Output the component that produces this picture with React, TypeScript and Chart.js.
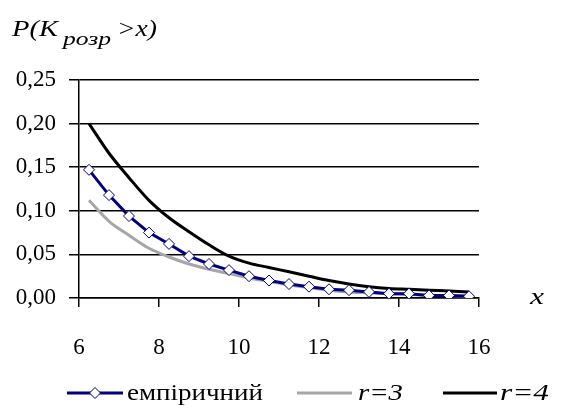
import React, { useEffect, useRef } from "react";
import { Chart, registerables } from "chart.js";

Chart.register(...registerables);

const X_VALUES = [6.25, 6.75, 7.25, 7.75, 8.25, 8.75, 9.25, 9.75, 10.25, 10.75, 11.25, 11.75, 12.25, 12.75, 13.25, 13.75, 14.25, 14.75, 15.25, 15.75];
const EMPIRICAL = [0.147, 0.118, 0.094, 0.075, 0.062, 0.048, 0.039, 0.032, 0.025, 0.020, 0.016, 0.013, 0.010, 0.009, 0.007, 0.005, 0.005, 0.003, 0.003, 0.002];
const R3 = [0.112, 0.088, 0.072, 0.057, 0.047, 0.039, 0.033, 0.028, 0.023, 0.019, 0.015, 0.012, 0.009, 0.007, 0.006, 0.005, 0.004, 0.003, 0.003, 0.002];
const R4 = [0.200, 0.166, 0.138, 0.112, 0.092, 0.076, 0.061, 0.048, 0.040, 0.035, 0.030, 0.025, 0.020, 0.016, 0.013, 0.011, 0.010, 0.009, 0.008, 0.007];

const SERIES_LABELS = ["емпіричний", "r=3", "r=4"];
const Y_TITLE_MAIN = "P(K";
const Y_TITLE_SUB = "розр";
const Y_TITLE_END = ">x)";
const X_TITLE = "x";

const FONT = '"Liberation Serif", "Times New Roman", serif';
const NAVY = "#000080";
const GRAY = "#a6a6a6";

const toPoints = (ys: number[]) => X_VALUES.map((x, i) => ({ x, y: ys[i] }));

// draw text stretched horizontally so that it spans [x0, x1]
function fitText(ctx: CanvasRenderingContext2D, text: string, x0: number, x1: number, y: number) {
  const w = ctx.measureText(text).width;
  const sx = (x1 - x0) / w;
  ctx.save();
  ctx.translate(x0, y);
  ctx.scale(sx, 1);
  ctx.fillText(text, 0, 0);
  ctx.restore();
}

const textPlugin = {
  id: "texts",
  afterDraw(chart: any) {
    const ctx = chart.ctx as CanvasRenderingContext2D;
    ctx.save();
    ctx.fillStyle = "#000";
    ctx.textAlign = "left";
    ctx.textBaseline = "alphabetic";
    // Y title
    ctx.font = `italic 24px ${FONT}`;
    fitText(ctx, Y_TITLE_MAIN, 12, 58, 36);
    ctx.font = `italic 18px ${FONT}`;
    fitText(ctx, Y_TITLE_SUB, 63, 111, 45);
    ctx.font = `italic 24px ${FONT}`;
    fitText(ctx, Y_TITLE_END, 117, 157, 36);
    // X title
    ctx.font = `italic 24px ${FONT}`;
    fitText(ctx, X_TITLE, 530, 544, 304);

    // legend
    const ly = 393;
    const items = [
      { x0: 67, x1: 123, t0: 127, t1: 263, color: NAVY, italic: false, marker: true, label: SERIES_LABELS[0] },
      { x0: 297, x1: 352, t0: 358, t1: 403, color: GRAY, italic: true, marker: false, label: SERIES_LABELS[1] },
      { x0: 443, x1: 497, t0: 500, t1: 549, color: "#000", italic: true, marker: false, label: SERIES_LABELS[2] },
    ];
    items.forEach((it) => {
      ctx.strokeStyle = it.color;
      ctx.lineWidth = 3;
      ctx.beginPath();
      ctx.moveTo(it.x0, ly);
      ctx.lineTo(it.x1, ly);
      ctx.stroke();
      if (it.marker) {
        const cx = (it.x0 + it.x1) / 2;
        ctx.fillStyle = "#fff";
        ctx.strokeStyle = NAVY;
        ctx.lineWidth = 1;
        ctx.beginPath();
        ctx.moveTo(cx, ly - 5.5);
        ctx.lineTo(cx + 5.5, ly);
        ctx.lineTo(cx, ly + 5.5);
        ctx.lineTo(cx - 5.5, ly);
        ctx.closePath();
        ctx.fill();
        ctx.stroke();
      }
      ctx.fillStyle = "#000";
      ctx.font = `${it.italic ? "italic " : ""}24px ${FONT}`;
      fitText(ctx, it.label, it.t0, it.t1, ly + 7);
    });
    ctx.restore();
  },
};

export default function App() {
  const ref = useRef<HTMLCanvasElement | null>(null);
  useEffect(() => {
    document.body.style.margin = "0";
    const canvas = ref.current;
    if (!canvas) return;
    const chart = new Chart(canvas, {
      type: "line",
      data: {
        datasets: [
          {
            label: SERIES_LABELS[0],
            data: toPoints(EMPIRICAL),
            borderColor: NAVY,
            borderWidth: 3,
            pointStyle: "rectRot",
            pointRadius: 5.5,
            pointBackgroundColor: "#fff",
            pointBorderColor: NAVY,
            pointBorderWidth: 1,
            tension: 0,
            order: 0,
          },
          {
            label: SERIES_LABELS[1],
            data: toPoints(R3),
            borderColor: GRAY,
            borderWidth: 3,
            pointRadius: 0,
            cubicInterpolationMode: "monotone",
            order: 2,
          },
          {
            label: SERIES_LABELS[2],
            data: toPoints(R4),
            borderColor: "#000",
            borderWidth: 3,
            pointRadius: 0,
            cubicInterpolationMode: "monotone",
            order: 1,
          },
        ],
      },
      options: {
        responsive: false,
        animation: false,
        layout: { padding: { top: 80, right: 85, left: 0, bottom: 0 } },
        plugins: { legend: { display: false }, tooltip: { enabled: false }, title: { display: false } },
        scales: {
          x: {
            type: "linear",
            min: 6,
            max: 16,
            afterFit: (s: any) => {
              s.height = 119;
            },
            ticks: {
              stepSize: 2,
              color: "#000",
              padding: 27,
              maxRotation: 0,
              font: { family: FONT, size: 23 },
            },
            grid: { drawOnChartArea: false, drawTicks: true, tickLength: 9, color: "#000", lineWidth: 1.5 },
            border: { display: true, color: "#000", width: 1.5 },
          },
          y: {
            min: 0,
            max: 0.25,
            afterFit: (s: any) => {
              s.width = 79;
            },
            ticks: {
              stepSize: 0.05,
              color: "#000",
              padding: 13,
              font: { family: FONT, size: 23 },
              callback: (v: any) => Number(v).toFixed(2).replace(".", ","),
            },
            grid: { color: "#000", lineWidth: 1.5, tickLength: 10, drawTicks: true },
            border: { display: true, color: "#000", width: 1.5 },
          },
        },
      },
      plugins: [textPlugin],
    } as any);
    return () => chart.destroy();
  }, []);
  return (
    <div style={{ width: 564, height: 417, background: "#fff" }}>
      <canvas ref={ref} width={564} height={417} />
    </div>
  );
}
